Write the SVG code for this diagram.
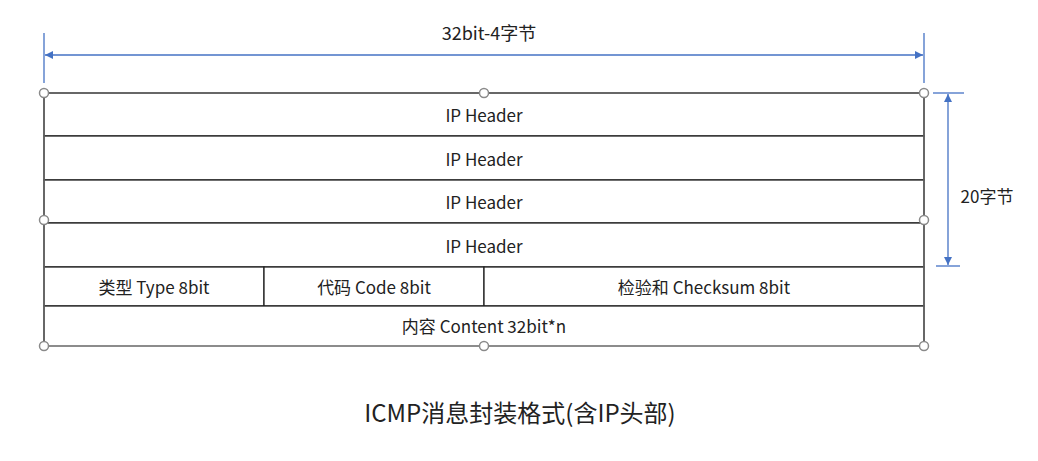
<svg xmlns="http://www.w3.org/2000/svg" width="1038" height="461" viewBox="0 0 1038 461">
<defs>
<marker id="arr" viewBox="0 0 10 10" refX="10" refY="5" markerWidth="8" markerHeight="8" markerUnits="userSpaceOnUse" orient="auto-start-reverse"><path d="M0,0 L10,5 L0,10 z" fill="#4472C4"/></marker>
</defs>
<style>
text{font-family:"Noto Sans CJK SC","Noto Sans",sans-serif;fill:#222;text-anchor:middle}
.lbl{font-size:17px}
.dim{stroke:#4472C4;stroke-width:1.3;fill:none}
.cell{fill:#fff;stroke:#222;stroke-width:1.3}
.h{fill:#fff;stroke:#8a8a8a;stroke-width:1.5}
</style>
<rect width="1038" height="461" fill="#fff"/>
<g id="connectors">
<line class="dim" x1="44" y1="33" x2="44" y2="83"/>
<line class="dim" x1="924" y1="33" x2="924" y2="83"/>
<line class="dim" x1="45" y1="55" x2="923" y2="55" marker-start="url(#arr)" marker-end="url(#arr)"/>
<line class="dim" x1="933" y1="93" x2="964" y2="93"/>
<line class="dim" x1="936" y1="266" x2="960" y2="266"/>
<line class="dim" x1="948" y1="94" x2="948" y2="265" marker-start="url(#arr)" marker-end="url(#arr)"/>
</g>
<g id="dim-top"><text class="lbl" x="489" y="40" style="font-size:18px">32bit-4字节</text></g>
<g id="dim-right"><text class="lbl" x="987" y="203">20字节</text></g>
<g id="row1"><rect class="cell" x="44" y="93" width="880" height="43"/><text class="lbl" x="484" y="122">IP Header</text></g>
<g id="row2"><rect class="cell" x="44" y="136" width="880" height="44"/><text class="lbl" x="484" y="166">IP Header</text></g>
<g id="row3"><rect class="cell" x="44" y="180" width="880" height="43"/><text class="lbl" x="484" y="209">IP Header</text></g>
<g id="row4"><rect class="cell" x="44" y="223" width="880" height="44"/><text class="lbl" x="484" y="253">IP Header</text></g>
<g id="type"><rect class="cell" x="44" y="267" width="220" height="39"/><text class="lbl" x="154" y="294">类型 Type 8bit</text></g>
<g id="code"><rect class="cell" x="264" y="267" width="220" height="39"/><text class="lbl" x="374" y="294">代码 Code 8bit</text></g>
<g id="checksum"><rect class="cell" x="484" y="267" width="440" height="39"/><text class="lbl" x="704" y="294">检验和 Checksum 8bit</text></g>
<g id="content"><rect class="cell" x="44" y="306" width="880" height="40"/><text class="lbl" x="484" y="333">内容 Content 32bit*n</text></g>
<g id="frame">
<rect x="44" y="93" width="880" height="253" fill="none" stroke="#666" stroke-width="1.6"/>
<line x1="44" y1="346" x2="924" y2="346" stroke="#999" stroke-width="1.6"/>
<circle class="h" cx="44" cy="93" r="4.5"/><circle class="h" cx="484" cy="93" r="4.5"/><circle class="h" cx="924" cy="93" r="4.5"/>
<circle class="h" cx="44" cy="220" r="4.5"/><circle class="h" cx="924" cy="220" r="4.5"/>
<circle class="h" cx="44" cy="346" r="4.5"/><circle class="h" cx="484" cy="346" r="4.5"/><circle class="h" cx="924" cy="346" r="4.5"/>
</g>
<g id="title"><text x="520" y="422" style="font-size:24px">ICMP消息封装格式(含IP头部)</text></g>
</svg>
